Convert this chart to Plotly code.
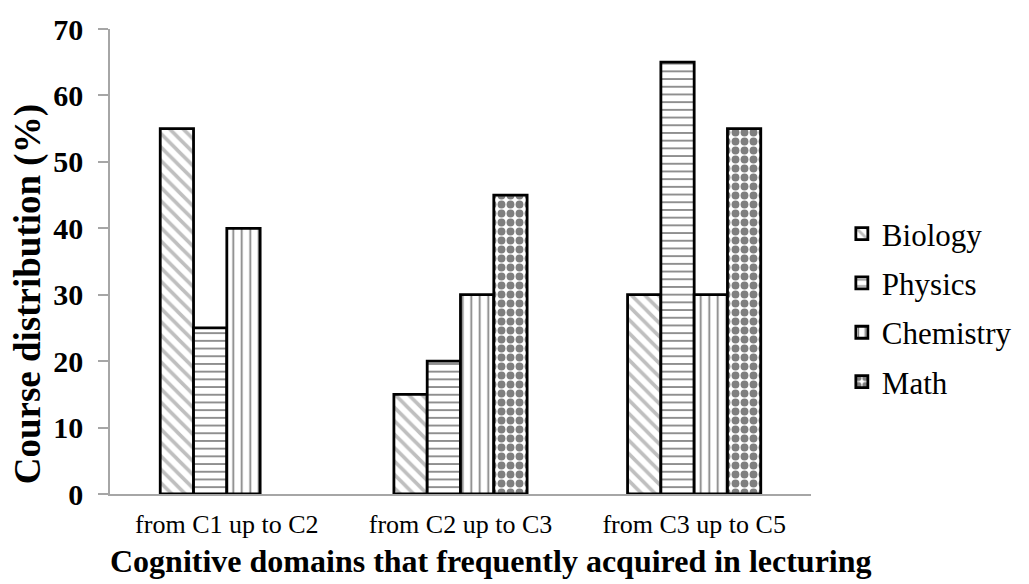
import plotly.graph_objects as go

categories = ["from C1 up to C2", "from C2 up to C3", "from C3 up to C5"]
biology = [55, 15, 30]
physics = [25, 20, 65]
chemistry = [40, 30, 30]
math_vals = [None, 45, 55]
y_ticks = [0, 10, 20, 30, 40, 50, 60, 70]

FONT = "Liberation Serif"

series = [
    ("Biology", biology, dict(shape="\\", fgcolor="#7f7f7f", bgcolor="white", size=9.5, solidity=0.38)),
    ("Physics", physics, dict(shape="-", fgcolor="black", bgcolor="white", size=7.7, solidity=0.22)),
    ("Chemistry", chemistry, dict(shape="|", fgcolor="black", bgcolor="white", size=8.5, solidity=0.2)),
    ("Math", math_vals, dict(shape=".", fgcolor="black", bgcolor="white", size=9, solidity=0.6)),
]

fig = go.Figure()
for name, vals, pat in series:
    fig.add_trace(go.Bar(
        name=name, x=categories, y=vals, legendgroup=name,
        marker=dict(color="white", pattern=pat, line=dict(color="black", width=2.8)),
    ))

fig.update_layout(
    width=1029, height=584,
    margin=dict(l=110, r=199, t=24, b=90),
    paper_bgcolor="white", plot_bgcolor="white",
    barmode="group", bargap=0.43, bargroupgap=0,
    font=dict(family=FONT, color="black"),
    legend=dict(x=1.044, y=0.4, xanchor="left", yanchor="middle",
                font=dict(family=FONT, size=31), tracegroupgap=6),
    xaxis=dict(
        showline=True, linecolor="#a6a6a6", linewidth=1.5,
        ticks="", tickfont=dict(family=FONT, size=26),
        ticklabelstandoff=6,
        showgrid=False,
    ),
    yaxis=dict(
        range=[0, 70], tickvals=y_ticks, showline=True, linecolor="#a6a6a6", linewidth=1.5,
        ticks="outside", ticklen=10, tickcolor="#a6a6a6", tickwidth=1.5,
        tickfont=dict(family=FONT, size=30, weight="bold"),
        ticklabelstandoff=9, ticklabeloverflow="allow",
        showgrid=False, zeroline=False,
    ),
    annotations=[
        dict(text="<b>Cognitive domains that frequently acquired in lecturing</b>",
             xref="paper", yref="paper", x=0.543, y=-0.1447,
             xanchor="center", yanchor="middle", showarrow=False,
             font=dict(family=FONT, size=32)),
        dict(text="<b>Course distribution (%)</b>",
             xref="paper", yref="paper", x=-0.1167, y=0.4298, textangle=-90,
             xanchor="center", yanchor="middle", showarrow=False,
             font=dict(family=FONT, size=37)),
    ],
)

fig.write_html(
    "out.html",
    config={"displayModeBar": False},
    post_script="document.body.style.margin='0';document.body.style.overflow='hidden';",
)
